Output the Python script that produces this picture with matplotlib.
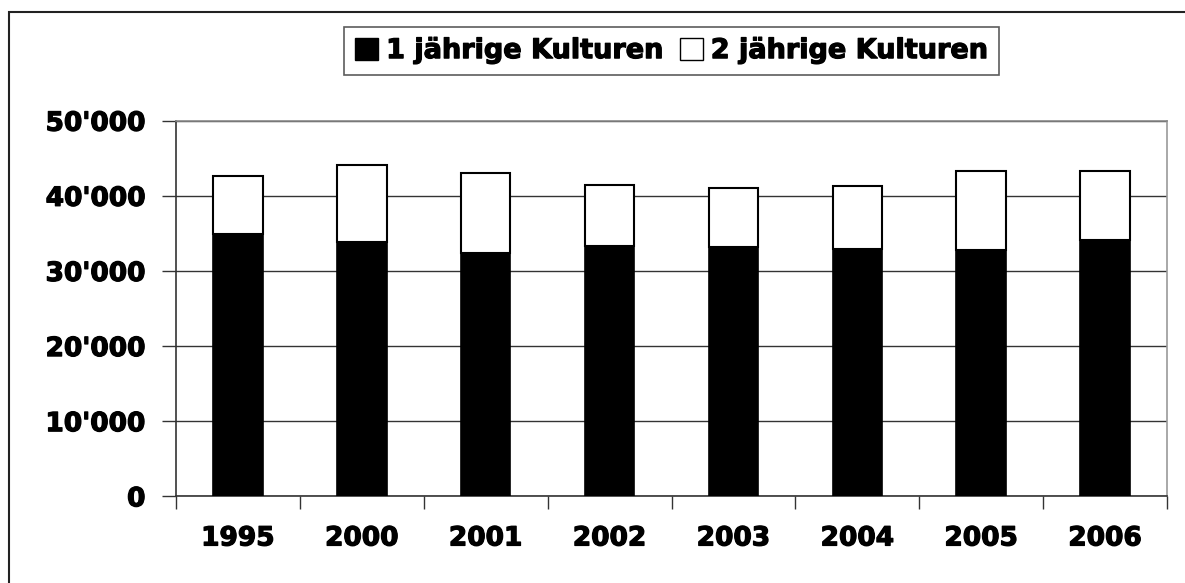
import matplotlib.pyplot as plt
import matplotlib.patches as mpatches
import matplotlib.patheffects as pe
from matplotlib.ticker import FuncFormatter, FixedLocator
import numpy as np

jahre = ['1995', '2000', '2001', '2002', '2003', '2004', '2005', '2006']
einjaehrig = [34930, 33820, 32360, 33290, 33250, 32970, 32840, 34130]
total = [42690, 44070, 43010, 41410, 41050, 41320, 43360, 43360]
zweijaehrig = [t - e for t, e in zip(total, einjaehrig)]

plt.rcParams['font.family'] = 'DejaVu Sans'
plt.rcParams['font.weight'] = 'bold'

fig = plt.figure(figsize=(11.85, 5.83), dpi=100)
ax = fig.add_axes([176/1185, 86.7/583, 991/1185, 375.6/583])

x = np.arange(len(jahre))
ax.bar(x, einjaehrig, width=0.4, color='black', edgecolor='black', linewidth=1.2, zorder=3)
ax.bar(x, zweijaehrig, bottom=einjaehrig, width=0.4, color='white', edgecolor='black', linewidth=1.5, zorder=3)

ax.set_xlim(-0.5, len(jahre) - 0.5)
ax.set_ylim(0, 50000)
ax.set_yticks(range(0, 50001, 10000))
ax.yaxis.set_major_formatter(FuncFormatter(lambda v, p: f"{int(v):,}".replace(',', "'")))
ax.yaxis.grid(True, color='#333333', linewidth=1)
ax.set_axisbelow(True)

# x ticks at category boundaries, labels centred
ax.xaxis.set_major_locator(FixedLocator(np.arange(-0.5, len(jahre), 1)))
ax.xaxis.set_major_formatter(FuncFormatter(lambda v, p: ''))
ax.set_xticks(x, minor=True)
ax.set_xticklabels(jahre, minor=True)
ax.tick_params(axis='x', which='minor', length=0, pad=21, labelsize=19)
ax.tick_params(axis='x', which='major', length=9, width=1, color='#333333')
ax.tick_params(axis='y', length=10, width=1, color='#333333', labelsize=19, pad=12)

ax.spines['left'].set_color('#333333')
ax.spines['bottom'].set_color('#333333')
ax.spines['top'].set_color('#888888')
ax.spines['right'].set_color('#999999')
for s in ax.spines.values():
    s.set_linewidth(1.2)

dick = [pe.withStroke(linewidth=0.9, foreground='black')]
for t in ax.get_yticklabels() + ax.get_xticklabels(minor=True):
    t.set_path_effects(dick)

# outer border (only top and left visible)
fig.patches.append(mpatches.Rectangle((9/1185, -0.1), 1.2, 1 - 12/583 + 0.1, transform=fig.transFigure,
                                      fill=False, edgecolor='#222222', linewidth=1.5))

handles = [mpatches.Patch(facecolor='black', edgecolor='black', label='1 jährige Kulturen'),
           mpatches.Patch(facecolor='white', edgecolor='black', label='2 jährige Kulturen')]
leg = fig.legend(handles=handles, loc='center', bbox_to_anchor=(671.5/1185, 1 - 51/583), ncol=2,
                 prop={'size': 19.5, 'weight': 'bold'}, frameon=True, fancybox=False,
                 handlelength=0.85, handleheight=0.85, handletextpad=0.3, columnspacing=0.6,
                 borderpad=0.4, borderaxespad=0)
leg.get_frame().set_edgecolor('#333333')
leg.get_frame().set_linewidth(1.2)
for t in leg.get_texts():
    t.set_path_effects(dick)

fig.savefig('out.png', dpi=100)
